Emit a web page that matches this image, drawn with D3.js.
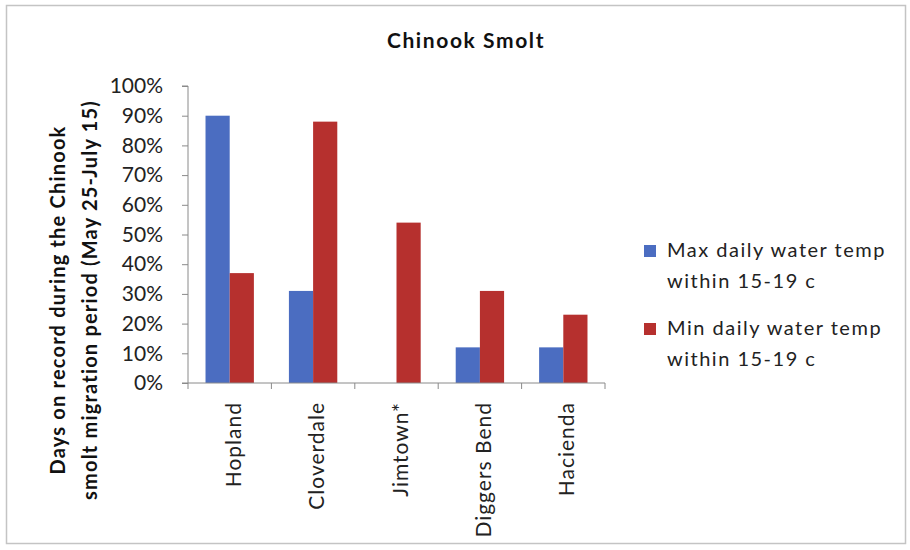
<!DOCTYPE html>
<html>
<head>
<meta charset="utf-8">
<script src="https://cdn.jsdelivr.net/npm/d3@7"></script>
<style>
  html, body { margin: 0; padding: 0; background: #fff; }
  svg { display: block; font-family: Lato, "Open Sans", sans-serif; }
</style>
</head>
<body>
<svg id="chart" width="910" height="550"></svg>
<script>
// Sites along the river and share of days within the 15-19 c band
const sites = ["Hopland", "Cloverdale", "Jimtown*", "Diggers Bend", "Hacienda"];
const seriesNames = ["Max daily water temp within 15-19 c", "Min daily water temp within 15-19 c"];
const maxTempShare = [0.90, 0.31, 0.00, 0.12, 0.12];
const minTempShare = [0.37, 0.88, 0.54, 0.31, 0.23];
const yTicks = [0, 0.1, 0.2, 0.3, 0.4, 0.5, 0.6, 0.7, 0.8, 0.9, 1.0];
const colors = ["#4b6dc1", "#b6302e"];

const svg = d3.select("#chart");

// outer chart frame
svg.append("rect")
  .attr("x", 6.5).attr("y", 5.5)
  .attr("width", 899).attr("height", 538)
  .attr("fill", "#fff")
  .attr("stroke", "#c4c4c4").attr("stroke-width", 1.5);

const plot = { left: 188, right: 605, top: 86, bottom: 383 };

const x0 = d3.scaleBand()
  .domain(sites)
  .range([plot.left, plot.right])
  .paddingInner(0.42).paddingOuter(0.21);

const x1 = d3.scaleBand()
  .domain([0, 1])
  .range([0, x0.bandwidth()]);

const y = d3.scaleLinear()
  .domain([0, 1])
  .range([plot.bottom, plot.top]);

// title
svg.append("text")
  .attr("x", 466).attr("y", 48)
  .attr("text-anchor", "middle")
  .attr("font-weight", "bold")
  .attr("font-size", 21)
  .attr("letter-spacing", 1.6)
  .attr("fill", "#111")
  .text("Chinook Smolt");

// bars
const rows = sites.map((s, i) => ({ site: s, values: [maxTempShare[i], minTempShare[i]] }));
const groups = svg.append("g").selectAll("g")
  .data(rows).join("g")
  .attr("transform", d => `translate(${x0(d.site)},0)`);
groups.selectAll("rect")
  .data(d => d.values.map((v, k) => ({ k, v })))
  .join("rect")
  .attr("x", d => x1(d.k))
  .attr("width", x1.bandwidth())
  .attr("y", d => y(d.v))
  .attr("height", d => y(0) - y(d.v))
  .attr("fill", d => colors[d.k]);

// y axis
const yAxis = d3.axisLeft(y)
  .tickValues(yTicks)
  .tickFormat(d3.format(".0%"))
  .tickSize(6)
  .tickPadding(19);
const gy = svg.append("g")
  .attr("transform", `translate(${plot.left},0)`)
  .call(yAxis);
gy.select(".domain").attr("stroke", "#8a8a8a").attr("d", `M-6,${plot.top}H0V${plot.bottom}H-6`);
gy.selectAll(".tick line").attr("stroke", "#8a8a8a");
gy.selectAll(".tick text")
  .attr("font-family", "Lato, sans-serif")
  .attr("font-size", 21)
  .attr("fill", "#222");

// x axis: category boundaries as tick marks
const xScaleLin = d3.scaleLinear().domain([0, sites.length]).range([plot.left, plot.right]);
const gx = svg.append("g").attr("transform", `translate(0,${plot.bottom})`);
gx.append("line")
  .attr("x1", plot.left).attr("x2", plot.right)
  .attr("stroke", "#8a8a8a");
gx.selectAll("line.cat")
  .data(d3.range(sites.length + 1))
  .join("line").attr("class", "cat")
  .attr("x1", d => xScaleLin(d)).attr("x2", d => xScaleLin(d))
  .attr("y1", 0).attr("y2", 6)
  .attr("stroke", "#8a8a8a");
gx.selectAll("text")
  .data(sites)
  .join("text")
  .attr("transform", d => `translate(${x0(d) + x0.bandwidth() / 2 + 11},19) rotate(-90)`)
  .attr("text-anchor", "end")
  .attr("font-size", 21)
  .attr("letter-spacing", 1)
  .attr("fill", "#222")
  .text(d => d);

// y axis title (two lines)
const yTitle = ["Days on record during the Chinook", "smolt migration period (May 25-July 15)"];
svg.append("g").selectAll("text")
  .data(yTitle).join("text")
  .attr("transform", (d, i) => `translate(${65 + i * 32},300) rotate(-90)`)
  .attr("text-anchor", "middle")
  .attr("font-weight", "bold")
  .attr("font-size", 20)
  .attr("letter-spacing", 1.2)
  .attr("fill", "#111")
  .text(d => d);

// legend
const legendLines = [["Max daily water temp", "within 15-19 c"], ["Min daily water temp", "within 15-19 c"]];
const legendTop = [257, 335];
const leg = svg.append("g").selectAll("g")
  .data(seriesNames).join("g");
leg.append("rect")
  .attr("x", 644)
  .attr("y", (d, i) => legendTop[i] - 12)
  .attr("width", 12).attr("height", 12)
  .attr("fill", (d, i) => colors[i]);
leg.each(function (d, i) {
  d3.select(this).selectAll("text")
    .data(legendLines[i]).join("text")
    .attr("x", 667)
    .attr("y", (t, j) => legendTop[i] + j * 31)
    .attr("font-size", 20)
    .attr("letter-spacing", 1.5)
    .attr("fill", "#222")
    .text(t => t);
});
</script>
</body>
</html>
